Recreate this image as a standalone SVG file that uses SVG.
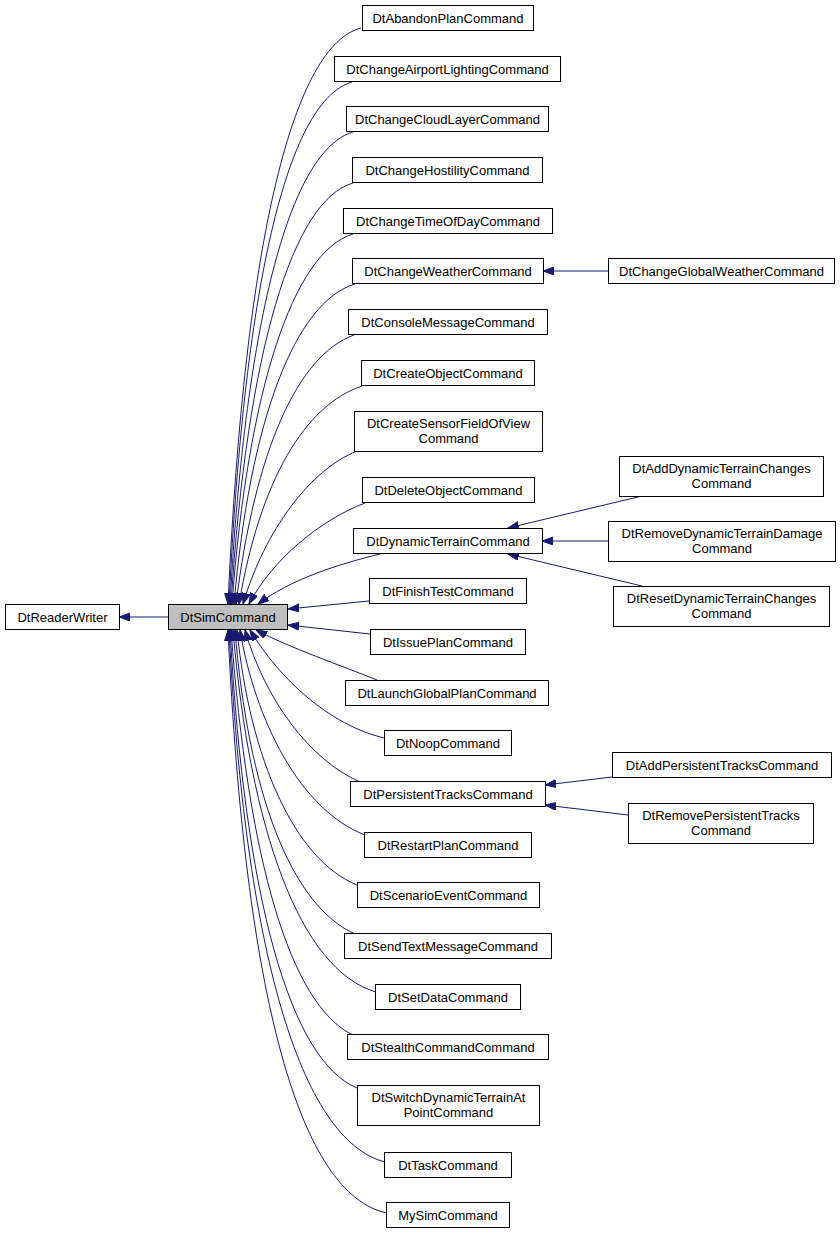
<svg xmlns="http://www.w3.org/2000/svg" width="840" height="1235" viewBox="0 0 840 1235">
<style>
.n rect{fill:#ffffff;stroke:#000000;stroke-width:1}
.n text{font-family:"Liberation Sans",Arial,sans-serif;font-size:13px;text-anchor:middle;fill:#000000}
#sim rect{fill:#bfbfbf}
.e path{fill:none;stroke:#191970;stroke-width:1;marker-end:url(#arr)}
</style>
<defs>
<marker id="arr" markerWidth="12" markerHeight="9" refX="11" refY="4" orient="auto" markerUnits="userSpaceOnUse">
<path d="M0,0 L11,4 L0,8 z" fill="#191970" stroke="#191970" stroke-width="1"/>
</marker>
</defs>
<rect width="840" height="1235" fill="#ffffff"/>
<g class="e" id="edges">
<path d="M168,617 L119,617"/>
<path d="M361,28 C295,45 245,230 228,604"/>
<path d="M352,82 C290,100 245,270 229,604"/>
<path d="M353,132 C292,150 246,310 230,604"/>
<path d="M353,183 C293,200 247,350 231,604"/>
<path d="M353,234 C293,252 248,390 232,604"/>
<path d="M355,284 C295,302 250,420 234,604"/>
<path d="M354,335 C298,355 255,450 236,604"/>
<path d="M362,386 C305,405 260,480 239,604"/>
<path d="M357,451 C310,470 265,530 243,604"/>
<path d="M365,503 C320,520 272,560 249,604"/>
<path d="M380,554 C335,565 290,580 258,604"/>
<path d="M369,601 L288,609"/>
<path d="M370,634 L288,625"/>
<path d="M377,680 C340,665 290,648 256,630"/>
<path d="M384,738 C330,725 280,680 250,630"/>
<path d="M360,782 C310,760 265,700 245,630"/>
<path d="M365,835 C300,810 255,720 240,630"/>
<path d="M357,885 C295,860 250,760 237,630"/>
<path d="M355,934 C290,905 248,790 235,630"/>
<path d="M376,992 C300,970 250,830 233,630"/>
<path d="M353,1035 C290,1005 248,860 231,630"/>
<path d="M357,1088 C290,1060 245,900 230,630"/>
<path d="M385,1162 C300,1140 245,950 229,630"/>
<path d="M387,1213 C300,1195 245,1000 228,630"/>
<path d="M608,271 L543,271"/>
<path d="M642,496 L508,528"/>
<path d="M608,541 L542,541"/>
<path d="M642,586 L508,554"/>
<path d="M612,777 L545,785"/>
<path d="M628,815 L545,805"/>
</g>
<g class="n" id="readerwriter"><rect x="5.5" y="604.5" width="114" height="25"/><text x="62.5" y="621.5">DtReaderWriter</text></g>
<g class="n" id="sim"><rect x="168.5" y="604.5" width="119" height="25"/><text x="228" y="621.5">DtSimCommand</text></g>
<g class="n" id="abandon"><rect x="362.5" y="5.5" width="171" height="25"/><text x="448" y="22.5">DtAbandonPlanCommand</text></g>
<g class="n" id="airport"><rect x="334.5" y="56.5" width="226" height="25"/><text x="447.5" y="73.5">DtChangeAirportLightingCommand</text></g>
<g class="n" id="cloud"><rect x="346.5" y="106.5" width="202" height="25"/><text x="447.5" y="123.5">DtChangeCloudLayerCommand</text></g>
<g class="n" id="hostility"><rect x="352.5" y="157.5" width="190" height="25"/><text x="447.5" y="174.5">DtChangeHostilityCommand</text></g>
<g class="n" id="timeofday"><rect x="343.5" y="208.5" width="209" height="25"/><text x="448" y="225.5">DtChangeTimeOfDayCommand</text></g>
<g class="n" id="weather"><rect x="352.5" y="258.5" width="191" height="25"/><text x="448" y="275.5">DtChangeWeatherCommand</text></g>
<g class="n" id="globalweather"><rect x="608.5" y="258.5" width="226" height="25"/><text x="721.5" y="275.5">DtChangeGlobalWeatherCommand</text></g>
<g class="n" id="console"><rect x="348.5" y="309.5" width="199" height="25"/><text x="448" y="326.5">DtConsoleMessageCommand</text></g>
<g class="n" id="createobject"><rect x="361.5" y="360.5" width="173" height="25"/><text x="448" y="377.5">DtCreateObjectCommand</text></g>
<g class="n" id="sensor"><rect x="354.5" y="411.5" width="188" height="40"/><text x="448.5" y="427.5">DtCreateSensorFieldOfView</text><text x="448.5" y="442.5">Command</text></g>
<g class="n" id="delete"><rect x="362.5" y="477.5" width="172" height="25"/><text x="448.5" y="494.5">DtDeleteObjectCommand</text></g>
<g class="n" id="dynamic"><rect x="353.5" y="528.5" width="189" height="25"/><text x="448" y="545.5">DtDynamicTerrainCommand</text></g>
<g class="n" id="adddyn"><rect x="619.5" y="456.5" width="204" height="40"/><text x="721.5" y="472.5">DtAddDynamicTerrainChanges</text><text x="721.5" y="487.5">Command</text></g>
<g class="n" id="removedyn"><rect x="608.5" y="521.5" width="227" height="40"/><text x="722" y="537.5">DtRemoveDynamicTerrainDamage</text><text x="722" y="552.5">Command</text></g>
<g class="n" id="resetdyn"><rect x="613.5" y="586.5" width="216" height="40"/><text x="721.5" y="602.5">DtResetDynamicTerrainChanges</text><text x="721.5" y="617.5">Command</text></g>
<g class="n" id="finish"><rect x="369.5" y="578.5" width="157" height="25"/><text x="448" y="595.5">DtFinishTestCommand</text></g>
<g class="n" id="issue"><rect x="370.5" y="629.5" width="155" height="25"/><text x="448" y="646.5">DtIssuePlanCommand</text></g>
<g class="n" id="launch"><rect x="345.5" y="680.5" width="203" height="25"/><text x="447" y="697.5">DtLaunchGlobalPlanCommand</text></g>
<g class="n" id="noop"><rect x="384.5" y="730.5" width="127" height="25"/><text x="448" y="747.5">DtNoopCommand</text></g>
<g class="n" id="persistent"><rect x="350.5" y="781.5" width="195" height="25"/><text x="448" y="798.5">DtPersistentTracksCommand</text></g>
<g class="n" id="addpers"><rect x="612.5" y="752.5" width="219" height="25"/><text x="722" y="769.5">DtAddPersistentTracksCommand</text></g>
<g class="n" id="removepers"><rect x="628.5" y="803.5" width="185" height="40"/><text x="721" y="819.5">DtRemovePersistentTracks</text><text x="721" y="834.5">Command</text></g>
<g class="n" id="restart"><rect x="364.5" y="832.5" width="167" height="25"/><text x="448" y="849.5">DtRestartPlanCommand</text></g>
<g class="n" id="scenario"><rect x="357.5" y="882.5" width="182" height="25"/><text x="448.5" y="899.5">DtScenarioEventCommand</text></g>
<g class="n" id="sendtext"><rect x="344.5" y="933.5" width="207" height="25"/><text x="448" y="950.5">DtSendTextMessageCommand</text></g>
<g class="n" id="setdata"><rect x="375.5" y="984.5" width="145" height="25"/><text x="448" y="1001.5">DtSetDataCommand</text></g>
<g class="n" id="stealth"><rect x="347.5" y="1034.5" width="201" height="25"/><text x="448" y="1051.5">DtStealthCommandCommand</text></g>
<g class="n" id="switch"><rect x="357.5" y="1085.5" width="182" height="40"/><text x="448.5" y="1101.5">DtSwitchDynamicTerrainAt</text><text x="448.5" y="1116.5">PointCommand</text></g>
<g class="n" id="task"><rect x="384.5" y="1152.5" width="127" height="25"/><text x="448" y="1169.5">DtTaskCommand</text></g>
<g class="n" id="mysim"><rect x="386.5" y="1202.5" width="123" height="25"/><text x="448" y="1219.5">MySimCommand</text></g>
</svg>
